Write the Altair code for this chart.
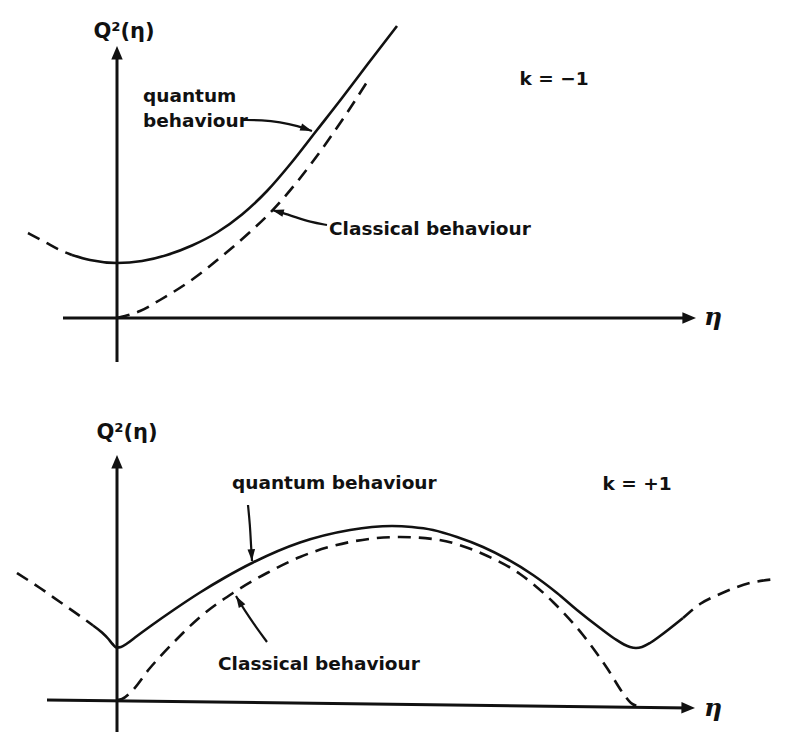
import math
import altair as alt
import pandas as pd

# ---------------- data (eta, Q^2 in arbitrary units) ----------------
# Panel 1: k = -1
p1_quantum_eta = [-0.45, -0.27, 0.00, 0.25, 0.50, 0.75, 1.00, 1.25, 1.50, 1.75, 2.00, 2.25, 2.50, 2.80]
p1_quantum_q   = [0.63, 0.58, 0.55, 0.57, 0.63, 0.725, 0.855, 1.035, 1.27, 1.56, 1.88, 2.20, 2.53, 2.92]
p1_qext_eta = [-0.89, -0.72, -0.57, -0.45]
p1_qext_q   = [0.85, 0.76, 0.68, 0.63]
p1_classical_eta = [0.00, 0.08, 0.23, 0.43, 0.76, 1.10, 1.33, 1.53, 1.80, 2.10, 2.30, 2.50]
p1_classical_q   = [0.00, 0.02, 0.07, 0.18, 0.39, 0.66, 0.86, 1.05, 1.36, 1.76, 2.05, 2.36]
p1_arrow_quantum_eta = [1.26, 1.45, 1.63, 1.81, 1.95]
p1_arrow_quantum_q   = [1.98, 1.98, 1.96, 1.92, 1.87]
p1_arrow_classical_eta = [2.10, 1.93, 1.78, 1.66, 1.55]
p1_arrow_classical_q   = [0.93, 0.96, 1.01, 1.05, 1.08]
p1_yaxis_eta = [0.00, 0.00]
p1_yaxis_q   = [-0.44, 2.62]
p1_xaxis_eta = [-0.54, 5.74]
p1_xaxis_q   = [0.00, 0.00]
p1_label_text  = ["Q²(η)", "quantum", "behaviour", "Classical behaviour", "k = −1"]
p1_label_eta   = [0.07, 0.26, 0.26, 2.12, 4.37]
p1_label_q     = [2.80, 2.16, 1.91, 0.83, 2.33]
p1_label_align = ["center", "left", "left", "left", "center"]
p1_eta_label = (5.96, -0.07)

# Panel 2: k = +1
p2_quantum_eta = [-0.24, -0.15, -0.09, -0.045, -0.015, 0.00, 0.04, 0.10, 0.18, 0.33, 0.58, 0.83, 1.08,
                  1.36, 1.83, 2.33, 2.55, 2.75, 2.95, 3.16, 3.40, 3.66, 3.90, 4.16, 4.40, 4.60,
                  4.83, 4.98, 5.07, 5.13, 5.19, 5.25, 5.33, 5.43, 5.66]
p2_quantum_q   = [0.745, 0.675, 0.615, 0.56, 0.53, 0.525, 0.53, 0.565, 0.625, 0.735, 0.91, 1.075, 1.225,
                  1.375, 1.575, 1.70, 1.73, 1.74, 1.73, 1.70, 1.63, 1.53, 1.41, 1.25, 1.07, 0.90,
                  0.72, 0.61, 0.555, 0.53, 0.52, 0.53, 0.57, 0.64, 0.82]
p2_qext_left_eta = [-1.00, -0.77, -0.57, -0.37, -0.24]
p2_qext_left_q   = [1.27, 1.12, 0.98, 0.84, 0.745]
p2_qext_right_eta = [5.66, 5.83, 6.03, 6.33, 6.60]
p2_qext_right_q   = [0.82, 0.96, 1.06, 1.17, 1.21]
p2_classical_eta = [0.00, 0.05, 0.13, 0.33, 0.58, 0.83, 1.16, 1.50, 1.83, 2.33, 2.83, 3.16,
                    3.66, 4.03, 4.36, 4.66, 4.90, 5.08, 5.14, 5.20]
p2_classical_q   = [0.00, 0.01, 0.07, 0.32, 0.59, 0.83, 1.07, 1.27, 1.43, 1.58, 1.63, 1.61,
                    1.46, 1.26, 0.98, 0.65, 0.32, 0.04, -0.03, -0.06]
p2_arrow_quantum_eta = [1.31, 1.33, 1.34, 1.35]
p2_arrow_quantum_q   = [1.95, 1.75, 1.55, 1.39]
p2_arrow_classical_eta = [1.50, 1.39, 1.28, 1.19]
p2_arrow_classical_q   = [0.58, 0.73, 0.89, 1.04]
p2_yaxis_eta = [0.00, 0.00]
p2_yaxis_q   = [-0.32, 2.35]
p2_xaxis_eta = [-0.70, 5.73]
p2_xaxis_q   = [0.00, -0.08]
p2_label_text  = ["Q²(η)", "quantum behaviour", "Classical behaviour", "k = +1"]
p2_label_eta   = [0.10, 1.15, 1.01, 5.20]
p2_label_q     = [2.61, 2.11, 0.30, 2.10]
p2_label_align = ["center", "left", "left", "center"]
p2_eta_label = (5.96, -0.16)

INK = "#111111"
W, H = 779, 362
X_DOMAIN = [-1.09, 6.70]


def rows(name, eta, q, style, width, interp):
    return [dict(series=name, eta=e, q=v, style=style, sw=width, interp=interp, i=i)
            for i, (e, v) in enumerate(zip(eta, q))]


def head(eta, q, kind):
    # arrowhead at the last point, pointing along the last segment
    ang = math.degrees(math.atan2(eta[-1] - eta[-2], q[-1] - q[-2])) % 360
    return dict(eta=eta[-1], q=q[-1], angle=ang, kind=kind)


def panel(lines, heads, labels, eta_label, y_domain):
    df = pd.DataFrame(lines)
    hd = pd.DataFrame(heads)
    lb = pd.DataFrame(labels)
    xs = alt.X("eta:Q", scale=alt.Scale(domain=X_DOMAIN, nice=False, zero=False), axis=None)
    ys = alt.Y("q:Q", scale=alt.Scale(domain=y_domain, nice=False, zero=False), axis=None)
    base = alt.Chart(df)
    layers = []
    for style, dash in [("solid", None), ("dashed", [13, 8])]:
        for interp in ["monotone", "linear", "basis"]:
            kw = dict(color=INK, strokeCap="butt", strokeJoin="round", interpolate=interp)
            if dash:
                kw["strokeDash"] = dash
            layers.append(
                base.transform_filter(
                    (alt.datum.style == style) & (alt.datum.interp == interp)
                ).mark_line(**kw).encode(
                    x=xs, y=ys, detail="series:N", order="i:Q",
                    strokeWidth=alt.StrokeWidth("sw:Q", scale=None),
                )
            )
    axis_head = alt.Chart(hd).transform_filter(alt.datum.kind == "axis").mark_point(
        shape="M0,0L0.42,1L-0.42,1Z", filled=True, color=INK, opacity=1, size=740, strokeWidth=0
    ).encode(x=xs, y=ys, angle=alt.Angle("angle:Q", scale=None))
    note_head = alt.Chart(hd).transform_filter(alt.datum.kind == "note").mark_point(
        shape="M0,0L0.32,1L-0.32,1Z", filled=True, color=INK, opacity=1, size=560, strokeWidth=0
    ).encode(x=xs, y=ys, angle=alt.Angle("angle:Q", scale=None))
    layers += [axis_head, note_head]
    for al in ["left", "center"]:
        layers.append(
            alt.Chart(lb).transform_filter(alt.datum.align == al).mark_text(
                font="DejaVu Sans", fontWeight="bold", color=INK, align=al,
                baseline="alphabetic"
            ).encode(x=xs, y=ys, text="text:N", size=alt.Size("fs:Q", scale=None))
        )
    eta_df = pd.DataFrame([dict(eta=eta_label[0], q=eta_label[1], text="η")])
    layers.append(
        alt.Chart(eta_df).mark_text(
            font="DejaVu Serif", fontStyle="italic", fontWeight="bold", fontSize=25,
            color=INK, align="center", baseline="alphabetic"
        ).encode(x=xs, y=ys, text="text:N")
    )
    return alt.layer(*layers).properties(width=W, height=H)


def label_rows(texts, etas, qs, aligns):
    out = []
    for t, e, v, a in zip(texts, etas, qs, aligns):
        fs = 21 if t.startswith("Q") else 18.5
        out.append(dict(text=t, eta=e, q=v, align=a, fs=fs))
    return out


p1_lines = (
    rows("quantum", p1_quantum_eta, p1_quantum_q, "solid", 2.6, "monotone")
    + rows("quantum_ext", p1_qext_eta, p1_qext_q, "dashed", 2.6, "monotone")
    + rows("classical", p1_classical_eta, p1_classical_q, "dashed", 2.6, "monotone")
    + rows("arrow_q", p1_arrow_quantum_eta, p1_arrow_quantum_q, "solid", 2.2, "basis")
    + rows("arrow_c", p1_arrow_classical_eta, p1_arrow_classical_q, "solid", 2.2, "basis")
    + rows("yaxis", p1_yaxis_eta, p1_yaxis_q, "solid", 3.0, "linear")
    + rows("xaxis", p1_xaxis_eta, p1_xaxis_q, "solid", 3.0, "linear")
)
p1_heads = [
    head(p1_yaxis_eta, [p1_yaxis_q[0], p1_yaxis_q[1] + 0.10], "axis"),
    head(p1_xaxis_eta[:1] + [p1_xaxis_eta[1] + 0.05], p1_xaxis_q, "axis"),
    head(p1_arrow_quantum_eta, p1_arrow_quantum_q, "note"),
    head(p1_arrow_classical_eta, p1_arrow_classical_q, "note"),
]
p2_lines = (
    rows("quantum", p2_quantum_eta, p2_quantum_q, "solid", 2.6, "monotone")
    + rows("quantum_ext_l", p2_qext_left_eta, p2_qext_left_q, "dashed", 2.6, "monotone")
    + rows("quantum_ext_r", p2_qext_right_eta, p2_qext_right_q, "dashed", 2.6, "monotone")
    + rows("classical", p2_classical_eta, p2_classical_q, "dashed", 2.6, "monotone")
    + rows("arrow_q", p2_arrow_quantum_eta, p2_arrow_quantum_q, "solid", 2.2, "basis")
    + rows("arrow_c", p2_arrow_classical_eta, p2_arrow_classical_q, "solid", 2.2, "basis")
    + rows("yaxis", p2_yaxis_eta, p2_yaxis_q, "solid", 3.0, "linear")
    + rows("xaxis", p2_xaxis_eta, p2_xaxis_q, "solid", 3.0, "linear")
)
p2_heads = [
    head(p2_yaxis_eta, [p2_yaxis_q[0], p2_yaxis_q[1] + 0.10], "axis"),
    head(p2_xaxis_eta[:1] + [p2_xaxis_eta[1] + 0.05], p2_xaxis_q, "axis"),
    head(p2_arrow_quantum_eta, p2_arrow_quantum_q, "note"),
    head(p2_arrow_classical_eta, p2_arrow_classical_q, "note"),
]

top = panel(p1_lines, p1_heads,
            label_rows(p1_label_text, p1_label_eta, p1_label_q, p1_label_align),
            p1_eta_label, [-0.52, 3.10])
bottom = panel(p2_lines, p2_heads,
               label_rows(p2_label_text, p2_label_eta, p2_label_q, p2_label_align),
               p2_eta_label, [-0.32, 3.30])

chart = alt.vconcat(top, bottom, spacing=0).properties(
    padding=0, background="white"
).configure_view(stroke=None)

chart.save("out.html", embed_options={"renderer": "svg", "actions": False})
